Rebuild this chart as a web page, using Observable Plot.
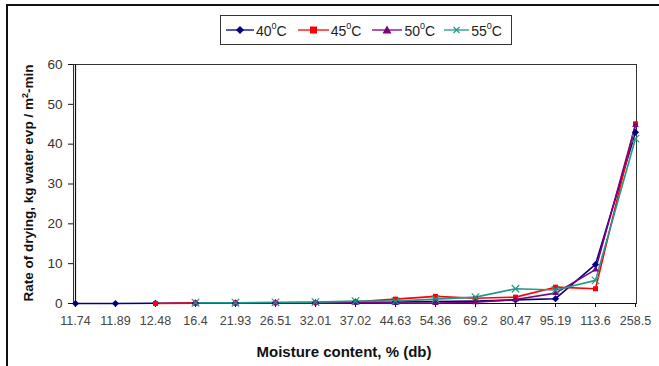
<!DOCTYPE html>
<html>
<head>
<meta charset="utf-8">
<script src="https://cdn.jsdelivr.net/npm/d3@7"></script>
<script src="https://cdn.jsdelivr.net/npm/@observablehq/plot@0.6"></script>
<style>
  html, body { margin: 0; padding: 0; background: #fff; }
  body { font-family: "Liberation Sans", Arial, sans-serif; }
  #wrap { position: relative; width: 659px; height: 366px; overflow: hidden; }
  #frame { position: absolute; left: 6px; top: 4px; width: 800px; height: 500px;
           border-left: 2px solid #111; border-top: 2px solid #111; box-sizing: border-box; }
  #legend { position: absolute; left: 220px; top: 15px; width: 292px; height: 30px;
            border: 1px solid #333; box-sizing: border-box; background: #fff;
            display: flex; align-items: center; font-size: 14px; color: #222; }
  .item { display: flex; align-items: center; }
  .item svg { display: block; }
  .item span { margin-left: 2px; }
  .item sup { font-size: 9px; position: relative; top: -1px; }
  #ylabel { position: absolute; left: 28px; top: 183px; transform: translate(-50%, -50%) rotate(-90deg);
            white-space: nowrap; font-weight: bold; font-size: 13.5px; color: #111; }
  #ylabel sup { font-size: 9px; }
  #xlabel { position: absolute; left: 344px; top: 351px; transform: translate(-50%, -50%);
            white-space: nowrap; font-weight: bold; font-size: 15px; color: #111; }
  #chart { position: absolute; left: 0; top: 0; }
  #chart svg g[aria-label="y-axis tick label"] { font-size: 13.5px; }
  #chart svg g[aria-label="x-axis tick label"] { font-size: 12.5px; }
</style>
</head>
<body>
<div id="wrap">
  <div id="chart"></div>
  <div id="frame"></div>
  <div id="legend"></div>
  <div id="ylabel">Rate of drying, kg water evp / m<sup>2</sup>-min</div>
  <div id="xlabel">Moisture content, % (db)</div>
</div>
<script>
const categories = ["11.74","11.89","12.48","16.4","21.93","26.51","32.01","37.02","44.63","54.36","69.2","80.47","95.19","113.6","258.5"];
const rate40 = [0, 0, 0.05, 0.1, 0.1, 0.2, 0.2, 0.4, 0.4, 0.5, 0.6, 0.9, 1.2, 9.8, 43.0];
const rate45 = [null, null, 0, 0.1, 0.15, 0.2, 0.25, 0.4, 1.1, 1.8, 1.3, 1.6, 4.1, 3.7, 45.1];
const rate50 = [null, null, null, 0.1, 0.1, 0.15, 0.15, 0.2, 0.1, 0.1, 0.3, 1.0, 2.6, 8.5, 44.8];
const rate55 = [null, null, null, 0.2, 0.2, 0.3, 0.35, 0.6, 0.6, 1.1, 1.6, 3.7, 3.4, 5.8, 41.4];
const seriesNames = ["40", "45", "50", "55"];
const yTicks = [0, 10, 20, 30, 40, 50, 60];

const colors = ["#000080", "#ff0000", "#800080", "#1f9a8c"];
const symbols = ["diamond2", "square2", "triangle2", "times"];
const seriesValues = [rate40, rate45, rate50, rate55];

const rows = [];
seriesValues.forEach((vals, s) => {
  vals.forEach((v, i) => {
    if (v != null) rows.push({series: seriesNames[s], cat: categories[i], v});
  });
});

const marks = [
  Plot.frame({stroke: "#333", strokeWidth: 1}),
  Plot.axisY({ticks: yTicks, tickSize: 5, tickPadding: 6, label: null, color: "#333", stroke: "#111"}),
  Plot.axisX({tickSize: 4, tickPadding: 9, label: null, color: "#444", stroke: "#111"}),
  Plot.ruleY([0], {stroke: "#111", strokeWidth: 1.2}),
  Plot.ruleX([categories[0]], {stroke: "#111", strokeWidth: 1.2})
];
seriesNames.forEach((name, s) => {
  const d = rows.filter(r => r.series === name);
  marks.push(Plot.line(d, {x: "cat", y: "v", stroke: colors[s], strokeWidth: 1.6}));
});
seriesNames.forEach((name, s) => {
  const d = rows.filter(r => r.series === name);
  marks.push(Plot.dot(d, {x: "cat", y: "v", symbol: symbols[s], r: s === 3 ? 3.5 : 3.2,
    fill: s === 3 ? "none" : colors[s], stroke: s === 3 ? colors[s] : "none", strokeWidth: 1.2}));
});

const chart = Plot.plot({
  width: 659,
  height: 366,
  marginTop: 64,
  marginRight: 23,
  marginBottom: 63,
  marginLeft: 73,
  style: {fontFamily: "'Liberation Sans', Arial, sans-serif", background: "transparent"},
  x: {type: "point", domain: categories, padding: 0, label: null},
  y: {domain: [0, 60], label: null},
  marks
});
d3.select(chart).selectAll('g[aria-label="y-axis tick label"]').attr("font-size", 13.5);
d3.select(chart).selectAll('g[aria-label="x-axis tick label"]').attr("font-size", 12.5);
document.getElementById("chart").appendChild(chart);

// legend
const legend = document.getElementById("legend");
const legendSyms = ["M0,-4L4,0L0,4L-4,0Z", "M-3.5,-3.5H3.5V3.5H-3.5Z", "M0,-4.5L4.5,3.5H-4.5Z", "M-3,-3L3,3M3,-3L-3,3"];
const widths = [[5, 28], [11, 31], [11, 30], [9, 25]];
seriesNames.forEach((name, s) => {
  const item = document.createElement("div");
  item.className = "item";
  item.style.marginLeft = widths[s][0] + "px";
  const w = widths[s][1];
  const svg = d3.create("svg").attr("width", w).attr("height", 12);
  svg.append("line").attr("x1", 0).attr("x2", w).attr("y1", 6).attr("y2", 6)
    .attr("stroke", colors[s]).attr("stroke-width", 1.3);
  svg.append("path").attr("transform", `translate(${w / 2},6)`).attr("d", legendSyms[s])
    .attr("fill", s === 3 ? "none" : colors[s]).attr("stroke", s === 3 ? colors[s] : "none").attr("stroke-width", 1.2);
  item.appendChild(svg.node());
  const t = document.createElement("span");
  t.innerHTML = `${name}<sup>0</sup>C`;
  item.appendChild(t);
  legend.appendChild(item);
});
</script>
</body>
</html>
